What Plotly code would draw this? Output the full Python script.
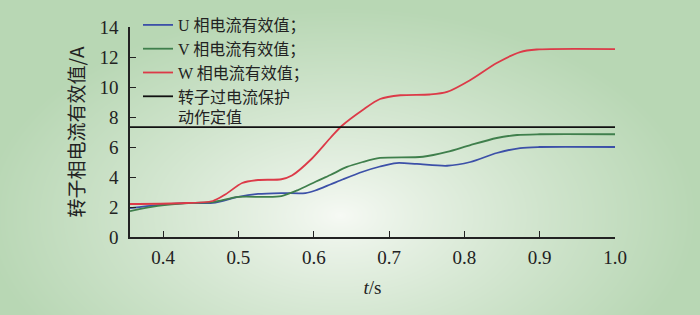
import base64, struct, zlib
import numpy as np
import plotly.graph_objects as go

# ---- data ----
t_u = [0.356, 0.393, 0.438, 0.466, 0.500, 0.526, 0.557, 0.589, 0.602, 0.622, 0.639, 0.665, 0.688, 0.710, 0.737, 0.777, 0.808, 0.843, 0.874, 0.900, 1.000]
i_u = [1.93, 2.13, 2.27, 2.27, 2.67, 2.87, 2.93, 2.93, 3.10, 3.50, 3.85, 4.35, 4.70, 4.93, 4.87, 4.75, 5.00, 5.60, 5.93, 6.00, 6.00]

t_v = [0.356, 0.393, 0.438, 0.466, 0.500, 0.535, 0.557, 0.579, 0.603, 0.622, 0.644, 0.665, 0.688, 0.745, 0.777, 0.808, 0.843, 0.870, 0.900, 1.000]
i_v = [1.73, 2.07, 2.27, 2.33, 2.67, 2.67, 2.73, 3.13, 3.70, 4.13, 4.67, 5.00, 5.27, 5.35, 5.67, 6.13, 6.60, 6.80, 6.85, 6.85]

t_w = [0.356, 0.420, 0.466, 0.483, 0.505, 0.526, 0.557, 0.571, 0.597, 0.622, 0.637, 0.665, 0.688, 0.715, 0.754, 0.777, 0.808, 0.843, 0.874, 0.896, 1.000]
i_w = [2.20, 2.25, 2.40, 2.85, 3.60, 3.80, 3.85, 4.10, 5.20, 6.60, 7.40, 8.47, 9.20, 9.45, 9.50, 9.67, 10.47, 11.60, 12.33, 12.50, 12.53]

t_limit = [0.356, 1.0]
i_limit = [7.33, 7.33]

names = ["U 相电流有效值；", "V 相电流有效值；", "W 相电流有效值；", "转子过电流保护<br>动作定值"]
x_ticks = [0.4, 0.5, 0.6, 0.7, 0.8, 0.9, 1.0]
x_ticklabels = ["0.4", "0.5", "0.6", "0.7", "0.8", "0.9", "1.0"]
y_ticks = [0, 2, 4, 6, 8, 10, 12, 14]

# ---- background gradient image (style only) ----
W, H = 700, 315
yy, xx = np.mgrid[0:H, 0:W].astype(float)
d = np.sqrt(((xx - 340) / 360.0) ** 2 + ((yy - 215) / 210.0) ** 2)
d = np.clip(d, 0, 1) ** 0.85
c0 = np.array([247, 250, 245], float)
c1 = np.array([184, 215, 180], float)
img = (c0[None, None, :] * (1 - d[..., None]) + c1[None, None, :] * d[..., None]).astype(np.uint8)
raw = b"".join(b"\x00" + img[r].tobytes() for r in range(H))
def chunk(tag, data):
    c = struct.pack(">I", len(data)) + tag + data
    return c + struct.pack(">I", zlib.crc32(tag + data) & 0xffffffff)
png = b"\x89PNG\r\n\x1a\n" + chunk(b"IHDR", struct.pack(">IIBBBBB", W, H, 8, 2, 0, 0, 0)) \
      + chunk(b"IDAT", zlib.compress(raw, 9)) + chunk(b"IEND", b"")
bg_uri = "data:image/png;base64," + base64.b64encode(png).decode()

L, R, T, B = 130, 85, 27, 78
pw, ph = W - L - R, H - T - B

fig = go.Figure()
colors = ["#3c50a8", "#3f7f4c", "#dc3a48", "#111111"]
for tx, iy, nm, col in zip([t_u, t_v, t_w, t_limit], [i_u, i_v, i_w, i_limit], names, colors):
    fig.add_trace(go.Scatter(x=tx, y=iy, name=nm, mode="lines",
                             line=dict(color=col, width=1.8, shape="spline", smoothing=0.8)))

font_main = "Liberation Serif, Noto Sans CJK SC, serif"
fig.update_layout(
    width=W, height=H,
    margin=dict(l=L, r=R, t=T, b=B, autoexpand=False),
    paper_bgcolor="rgb(184,215,180)",
    plot_bgcolor="rgba(0,0,0,0)",
    font=dict(family=font_main, size=18, color="#222"),
    showlegend=True,
    legend=dict(x=8 / pw, y=1 + 19 / ph, xanchor="left", yanchor="top", bgcolor="rgba(0,0,0,0)",
                font=dict(size=16, family=font_main, color="#222"), tracegroupgap=0,
                itemwidth=30, valign="top"),
    images=[dict(source=bg_uri, xref="paper", yref="paper", x=-L / pw, y=1 + T / ph,
                 sizex=W / pw, sizey=H / ph, xanchor="left", yanchor="top",
                 sizing="stretch", layer="below")],
    xaxis=dict(range=[0.356, 1.0], tickvals=x_ticks, ticktext=x_ticklabels,
               ticks="inside", ticklen=6, tickcolor="#222", showline=True, linecolor="#222",
               linewidth=1.5, showgrid=False, zeroline=False, tickfont=dict(size=19),
               ticklabelstandoff=2,
               title=dict(text="<i>t</i>/s", font=dict(size=19), standoff=14)),
    yaxis=dict(range=[0, 14], tickvals=y_ticks, ticks="inside", ticklen=6, tickcolor="#222",
               showline=True, linecolor="#222", linewidth=1.5, showgrid=False, zeroline=False,
               tickfont=dict(size=19), ticklabelstandoff=6,
               title=dict(text="转子相电流有效值/A", font=dict(size=19, family="Noto Sans CJK SC"), standoff=10)),
)
fig.write_html("out.html")
